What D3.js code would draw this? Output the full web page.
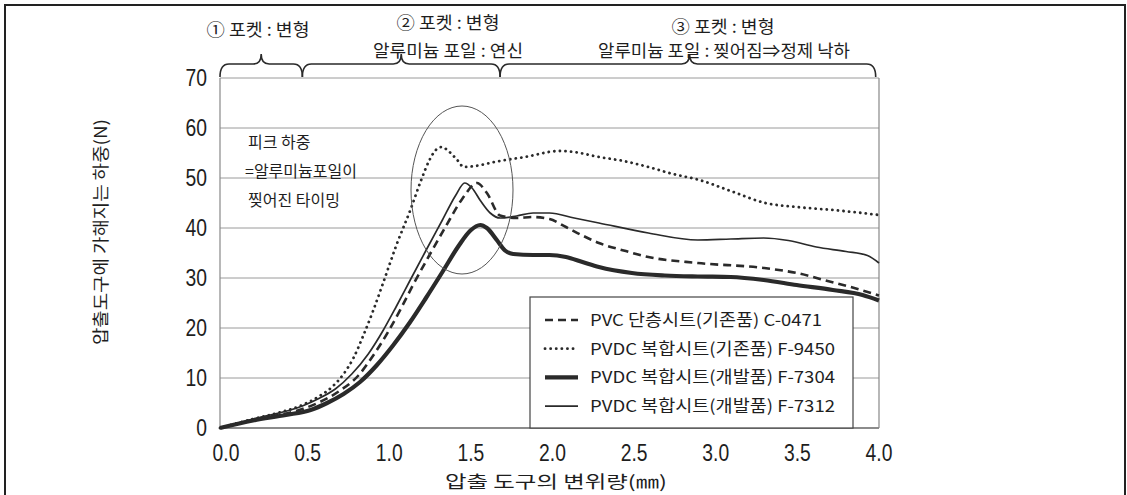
<!DOCTYPE html>
<head>
  <meta charset="utf-8">
  <script src="https://cdnjs.cloudflare.com/ajax/libs/d3/7.8.5/d3.min.js"></script>
</head>

<style>
body {
  margin: 0;
  background-color: #fff;
}
svg text {
  fill: #1e1e1e;
}
.num {
  font-family: 'Liberation Sans', Arial, sans-serif;
}
.kr {
  font-family: 'Noto Sans CJK KR', 'Noto Sans', sans-serif;
}
</style>

<body>
  <svg id='chart' width='1127' height='495'></svg>
</body>

<script>

// displacement (mm), load (N)
var pvc_c0471 = [[0,0],[0.2,1.6],[0.5,3.8],[0.6,5.1],[0.72,7.3],[0.84,10.5],[0.93,14.5],[1.02,19.2],
  [1.1,24],[1.17,28.5],[1.27,34.5],[1.37,40.3],[1.47,45.8],[1.56,49],[1.62,47],[1.7,42.5],[1.8,42],
  [1.9,42.2],[2.0,41.8],[2.1,40.2],[2.2,38.5],[2.3,37],[2.45,35.5],[2.6,34.2],[2.9,33],[3.3,32],
  [3.5,31],[3.7,29.3],[3.85,28],[4.0,26.5]];
var pvdc_f9450 = [[0,0],[0.2,1.8],[0.35,3],[0.5,4.6],[0.6,6.3],[0.68,8.2],[0.75,10.8],[0.81,14],
  [0.87,18.5],[0.93,23.5],[0.99,29],[1.07,36.5],[1.16,44],[1.22,49.5],[1.27,53.5],[1.31,55.6],
  [1.345,56.2],[1.39,55.3],[1.44,53.6],[1.48,52.2],[1.55,52.4],[1.68,53.3],[1.85,54.2],[2.06,55.4],
  [2.15,55.2],[2.3,54.2],[2.45,53.4],[2.6,52.2],[2.75,50.8],[2.91,49.6],[3.1,47.4],[3.31,45],
  [3.5,44.2],[3.72,43.6],[3.9,43],[4.0,42.6]];
var pvdc_f7304 = [[0,0],[0.2,1.5],[0.4,2.6],[0.55,3.6],[0.65,5],[0.75,6.8],[0.85,9.2],[0.95,12.5],
  [1.05,16.5],[1.15,21],[1.25,26],[1.35,31.2],[1.45,36.5],[1.52,39.5],[1.58,40.6],[1.62,40],
  [1.68,37.6],[1.73,35.5],[1.78,34.8],[1.9,34.6],[2.0,34.6],[2.1,34.2],[2.2,33.2],[2.3,32.2],
  [2.5,31],[2.7,30.5],[2.9,30.3],[3.1,30.2],[3.3,29.6],[3.5,28.6],[3.72,27.6],[3.9,26.6],[4.0,25.5]];
var pvdc_f7312 = [[0,0],[0.2,1.8],[0.5,4.4],[0.6,5.9],[0.7,7.8],[0.8,10.8],[0.9,14.8],[0.99,19.5],
  [1.07,24.3],[1.15,29.3],[1.25,35.5],[1.35,41.6],[1.43,46.5],[1.485,49],[1.53,48],[1.58,45.5],
  [1.64,43],[1.7,42],[1.8,42.4],[1.9,43],[2.0,43],[2.15,42],[2.3,41],[2.6,39],[2.9,37.6],[3.1,37.8],
  [3.3,38],[3.45,37.5],[3.62,36.2],[3.8,35.3],[3.93,34.5],[4.0,33]];

var seriesNames = ['PVC 단층시트(기존품) C-0471', 'PVDC 복합시트(기존품) F-9450',
                   'PVDC 복합시트(개발품) F-7304', 'PVDC 복합시트(개발품) F-7312'];
var seriesData = [pvc_c0471, pvdc_f9450, pvdc_f7304, pvdc_f7312];

var xTicks = [0, 0.5, 1, 1.5, 2, 2.5, 3, 3.5, 4];
var yTicks = [0, 10, 20, 30, 40, 50, 60, 70];

// phase braces: start, end, tip (mm)
var phaseStart = [0, 0.5, 1.7];
var phaseEnd = [0.5, 1.7, 3.98];
var phaseTip = [0.25, 1.1, 2.85];
var phaseLine1 = ['① 포켓 : 변형', '② 포켓 : 변형', '③ 포켓 : 변형'];
var phaseLine2 = ['', '알루미늄 포일 : 연신', '알루미늄 포일 : 찢어짐⇒정제 낙하'];

var peakNote = ['피크 하중', '=알루미늄포일이', '찢어진 타이밍'];

var svg = d3.select('#chart');

var x = d3.scaleLinear().domain([0, 4]).range([220, 879]);
var y = d3.scaleLinear().domain([0, 70]).range([428, 78]);

// outer frame
svg.append('path')
  .attr('d', 'M5,495 L5,5 L1125,5 L1125,495')
  .attr('fill', 'none')
  .attr('stroke', '#222')
  .attr('stroke-width', 2);

// grid
svg.selectAll('.grid')
  .data(yTicks)
  .enter().append('line')
    .attr('x1', x(0)).attr('x2', x(4))
    .attr('y1', function(d){ return y(d) }).attr('y2', function(d){ return y(d) })
    .attr('stroke', function(d){ return d == 0 ? '#666' : '#9a9a9a' })
    .attr('stroke-width', function(d){ return d == 0 ? 1.5 : 1 });

svg.append('line').attr('x1', x(0)).attr('x2', x(0)).attr('y1', y(70)).attr('y2', y(0))
  .attr('stroke', '#888').attr('stroke-width', 1.2);
svg.append('line').attr('x1', x(4)).attr('x2', x(4)).attr('y1', y(70)).attr('y2', y(0))
  .attr('stroke', '#888').attr('stroke-width', 1.2);

// tick labels (narrow look)
svg.selectAll('.ylab')
  .data(yTicks)
  .enter().append('text')
    .attr('class', 'num')
    .attr('transform', function(d){ return 'translate(207,' + (y(d) + 8) + ') scale(0.84,1)' })
    .attr('text-anchor', 'end')
    .attr('font-size', 23)
    .text(function(d){ return d });

svg.selectAll('.xlab')
  .data(xTicks)
  .enter().append('text')
    .attr('class', 'num')
    .attr('transform', function(d){ return 'translate(' + (x(d) + 6 * (1 - d / 4)) + ',461) scale(0.84,1)' })
    .attr('text-anchor', 'middle')
    .attr('font-size', 23)
    .text(function(d){ return d.toFixed(1) });

// axis titles
svg.append('text')
  .attr('class', 'kr')
  .attr('transform', 'translate(107,232) rotate(-90)')
  .attr('text-anchor', 'middle')
  .attr('font-size', 17)
  .attr('textLength', 226)
  .attr('lengthAdjust', 'spacingAndGlyphs')
  .text('압출도구에 가해지는 하중(N)');

svg.append('text')
  .attr('class', 'kr')
  .attr('x', 556)
  .attr('y', 488)
  .attr('text-anchor', 'middle')
  .attr('font-size', 17)
  .attr('textLength', 222)
  .attr('lengthAdjust', 'spacingAndGlyphs')
  .text('압출 도구의 변위량(㎜)');

// curves
var line = d3.line()
  .x(function(d){ return x(d[0]) })
  .y(function(d){ return y(d[1]) })
  .curve(d3.curveMonotoneX);

var styles = [
  {w: 2.6, dash: '8,5', cap: 'butt'},
  {w: 2.8, dash: '0.1,5.5', cap: 'round'},
  {w: 4.2, dash: null, cap: 'butt'},
  {w: 1.7, dash: null, cap: 'butt'}
];

svg.selectAll('.curve')
  .data(seriesData)
  .enter().append('path')
    .attr('d', line)
    .attr('fill', 'none')
    .attr('stroke', '#2a2a2a')
    .attr('stroke-width', function(d, i){ return styles[i].w })
    .attr('stroke-dasharray', function(d, i){ return styles[i].dash })
    .attr('stroke-linecap', function(d, i){ return styles[i].cap });

// peak ellipse
svg.append('ellipse')
  .attr('cx', 462).attr('cy', 190)
  .attr('rx', 51).attr('ry', 84)
  .attr('fill', 'none')
  .attr('stroke', '#555')
  .attr('stroke-width', 1);

// peak note
svg.selectAll('.note')
  .data(peakNote)
  .enter().append('text')
    .attr('class', 'kr')
    .attr('x', function(d, i){ return i == 1 ? 245 : 248 })
    .attr('y', function(d, i){ return 148 + i * 29 })
    .attr('font-size', 16)
    .text(function(d){ return d });

// legend
var lg = svg.append('g');
lg.append('rect')
  .attr('x', 530).attr('y', 297)
  .attr('width', 323).attr('height', 131)
  .attr('fill', '#fff')
  .attr('stroke', '#444')
  .attr('stroke-width', 1.2);

var rows = lg.selectAll('.row')
  .data(seriesNames)
  .enter().append('g')
    .attr('transform', function(d, i){ return 'translate(0,' + (320 + i * 28.7) + ')' });

rows.append('line')
  .attr('x1', 545).attr('x2', 578)
  .attr('y1', 0).attr('y2', 0)
  .attr('stroke', '#2a2a2a')
  .attr('stroke-width', function(d, i){ return styles[i].w })
  .attr('stroke-dasharray', function(d, i){ return styles[i].dash })
  .attr('stroke-linecap', function(d, i){ return styles[i].cap });

rows.append('text')
  .attr('class', 'kr')
  .attr('x', 590)
  .attr('y', 6)
  .attr('font-size', 16.5)
  .attr('textLength', function(d, i){ return i == 0 ? 232 : 245 })
  .attr('lengthAdjust', 'spacingAndGlyphs')
  .text(function(d){ return d });

// phase braces
function brace(x1, x2, xm) {
  var yb = 77, yt = 64, ytip = 54;
  return 'M' + x1 + ',' + yb +
    ' Q' + x1 + ',' + yt + ' ' + (x1 + 9) + ',' + yt +
    ' L' + (xm - 8) + ',' + yt +
    ' Q' + xm + ',' + yt + ' ' + xm + ',' + ytip +
    ' Q' + xm + ',' + yt + ' ' + (xm + 8) + ',' + yt +
    ' L' + (x2 - 9) + ',' + yt +
    ' Q' + x2 + ',' + yt + ' ' + x2 + ',' + yb;
}

svg.selectAll('.brace')
  .data(phaseStart)
  .enter().append('path')
    .attr('d', function(d, i){ return brace(x(d), x(phaseEnd[i]), x(phaseTip[i])) })
    .attr('fill', 'none')
    .attr('stroke', '#2a2a2a')
    .attr('stroke-width', 1.6);

var phaseX1 = [258, 448, 723];
var phaseY1 = [36, 29, 33];
var phaseX2 = [0, 448, 724];
var phaseW1 = [103, 103, 103];
var phaseW2 = [0, 150, 252];

svg.selectAll('.ph1')
  .data(phaseLine1)
  .enter().append('text')
    .attr('class', 'kr')
    .attr('x', function(d, i){ return phaseX1[i] })
    .attr('y', function(d, i){ return phaseY1[i] })
    .attr('text-anchor', 'middle')
    .attr('font-size', 17)
    .attr('textLength', function(d, i){ return phaseW1[i] })
    .attr('lengthAdjust', 'spacingAndGlyphs')
    .text(function(d){ return d });

svg.selectAll('.ph2')
  .data(phaseLine2.filter(function(d){ return d != '' }))
  .enter().append('text')
    .attr('class', 'kr')
    .attr('x', function(d, i){ return phaseX2[i + 1] })
    .attr('y', 57)
    .attr('text-anchor', 'middle')
    .attr('font-size', 17)
    .attr('textLength', function(d, i){ return phaseW2[i + 1] })
    .attr('lengthAdjust', 'spacingAndGlyphs')
    .text(function(d){ return d });

</script>
